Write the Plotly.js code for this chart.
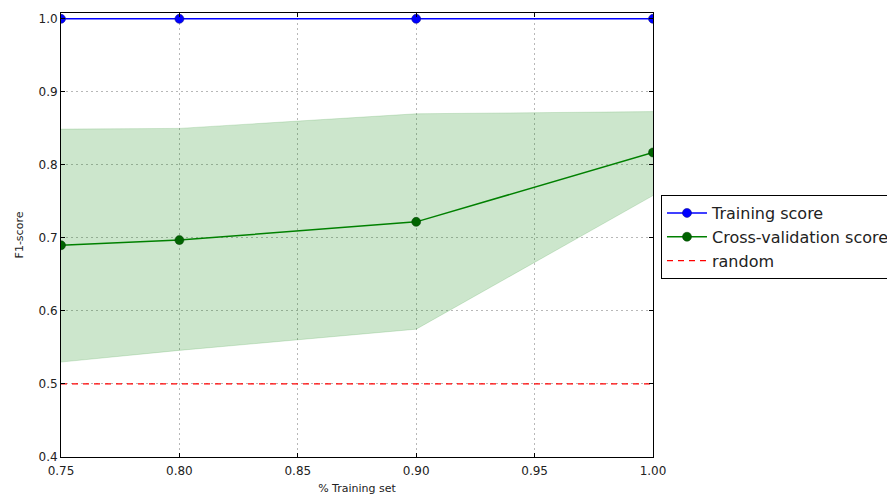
<!DOCTYPE html>
<html>
<head>
<meta charset="utf-8">
<script src="https://cdn.plot.ly/plotly-3.0.1.min.js"></script>
<style>html,body{margin:0;padding:0;background:#fff;overflow:hidden;}#chart{width:887px;height:501px;}</style>
</head>
<body>
<div id="chart"></div>
<script>
const trainSizes = [0.75, 0.80, 0.90, 1.00];
const trainScore = [1.0, 1.0, 1.0, 1.0];
const cvScore = [0.690, 0.697, 0.722, 0.817];
const cvUpper = [0.849, 0.850, 0.870, 0.873];
const cvLower = [0.530, 0.546, 0.575, 0.758];
const randomX = [0.75, 1.00];
const randomY = [0.5, 0.5];
const xTicks = [0.75, 0.80, 0.85, 0.90, 0.95, 1.00];
const yTicks = [0.4, 0.5, 0.6, 0.7, 0.8, 0.9, 1.0];

const traces = [
  {x: trainSizes, y: cvLower, mode: 'lines', line: {color: 'rgba(0,128,0,0.15)', width: 1}, showlegend: false, hoverinfo: 'skip'},
  {x: trainSizes, y: cvUpper, mode: 'lines', fill: 'tonexty', fillcolor: 'rgba(0,128,0,0.2)', line: {color: 'rgba(0,128,0,0.15)', width: 1}, showlegend: false, hoverinfo: 'skip'},
  {x: trainSizes, y: trainScore, mode: 'lines+markers', name: 'Training score', line: {color: '#0000ff', width: 1.5}, marker: {color: '#0000ff', size: 9, line: {color: '#00007f', width: 0.5}}},
  {x: trainSizes, y: cvScore, mode: 'lines+markers', name: 'Cross-validation score', line: {color: '#008000', width: 1.5}, marker: {color: '#006400', size: 9, line: {color: '#003f00', width: 0.5}}},
  {x: randomX, y: randomY, mode: 'lines', name: 'random', line: {color: '#ff0000', width: 1.2, dash: '6px,5px'}}
];

const axisCommon = {
  showline: true, linecolor: '#000', linewidth: 1, mirror: 'ticks',
  ticks: 'inside', ticklen: 4, tickcolor: '#000',
  showgrid: true, gridcolor: '#b8b8b8', griddash: '2px,3px', gridwidth: 1,
  zeroline: false,
  tickfont: {family: 'DejaVu Sans', size: 12, color: '#222'}
};

const layout = {
  width: 887, height: 501,
  margin: {l: 61, r: 234, t: 13, b: 44, autoexpand: false},
  paper_bgcolor: '#fff', plot_bgcolor: '#fff',
  font: {family: 'DejaVu Sans', color: '#222'},
  xaxis: Object.assign({}, axisCommon, {
    range: [0.75, 1.0], tickvals: xTicks, ticktext: xTicks.map(v => v.toFixed(2)),
    ticklabelstandoff: 3,
    title: {text: '% Training set', font: {family: 'DejaVu Sans', size: 11, color: '#222'}, standoff: 6}
  }),
  yaxis: Object.assign({}, axisCommon, {
    range: [0.4, 1.008], tickvals: yTicks, ticktext: yTicks.map(v => v.toFixed(1)),
    title: {text: 'F1-score', font: {family: 'DejaVu Sans', size: 11, color: '#222'}, standoff: 12}
  }),
  legend: {
    x: 1.0135, y: 0.59, xanchor: 'left', yanchor: 'top',
    bgcolor: '#fff', bordercolor: '#000', borderwidth: 1,
    font: {family: 'DejaVu Sans', size: 16, color: '#222'},
    traceorder: 'normal', tracegroupgap: 0, itemwidth: 40
  },
  showlegend: true
};

Plotly.newPlot('chart', traces, layout, {displayModeBar: false, staticPlot: true});
</script>
</body>
</html>
